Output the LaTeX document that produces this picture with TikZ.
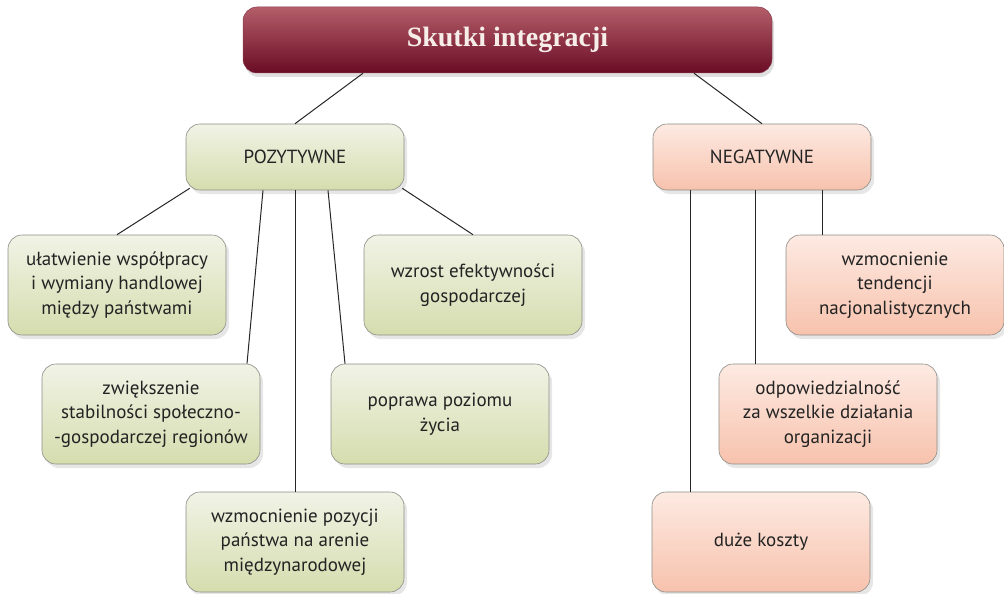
\documentclass[tikz,border=0pt]{standalone}
\usepackage{fontspec}
\usepackage{tikz}
\usepackage{xcolor}
\setsansfont{PT Sans}
\newfontfamily\headfont{Liberation Serif}
\usetikzlibrary{
  calc, positioning, shadows
}
\definecolor{headtop}{HTML}{B45E69}
\definecolor{headmid}{HTML}{9C1838}
\definecolor{headbot}{HTML}{6A0C25}
\definecolor{headtext}{HTML}{F7EEEA}
\definecolor{postop}{HTML}{F1F3E6}
\definecolor{posbot}{HTML}{D5DDAE}
\definecolor{negtop}{HTML}{FDEAE2}
\definecolor{negbot}{HTML}{F7C2AD}
\definecolor{textdark}{HTML}{232323}
\definecolor{bordergray}{HTML}{8C8C86}
\tikzset{
  % Title bar
  head/.style={
    draw=headbot!80, top color=headtop, middle color=headmid,
    bottom color=headbot, rounded corners=14pt,
    minimum width=529pt, minimum height=66pt,
    font=\headfont\bfseries\fontsize{28}{34}\selectfont, text=headtext,
    line width=0.5pt,
    drop shadow={shadow xshift=2pt, shadow yshift=-4pt, opacity=0.25},
  },
  % Category boxes (positive / negative)
  cat/.style={
    draw=bordergray, top color=#1top, bottom color=#1bot,
    rounded corners=14pt,
    minimum width=218pt, minimum height=66pt,
    font=\sffamily\fontsize{19}{24.5}\selectfont, text=textdark,
    line width=0.6pt,
    drop shadow={shadow xshift=3pt, shadow yshift=-4pt, opacity=0.2},
  },
  % Effect boxes
  effect/.style={
    draw=bordergray, top color=#1top, bottom color=#1bot,
    rounded corners=14pt, align=center,
    minimum width=218pt, minimum height=100pt,
    font=\sffamily\fontsize{19}{24.5}\selectfont, text=textdark,
    line width=0.6pt,
    drop shadow={shadow xshift=3pt, shadow yshift=-4pt, opacity=0.2},
  },
  % Connectors
  link/.style={line width=1pt, black!85},
}

\begin{document}
\begin{tikzpicture}[x=1pt, y=-1pt]
  \useasboundingbox (0,0) rectangle (1004,594);

  \node[head] (title) at (507.5,40) {Skutki integracji};

  \node[cat=pos] (poz) at (295,157) {POZYTYWNE};
  \node[cat=neg] (neg) at (762,157) {NEGATYWNE};

  % positive effects
  \node[effect=pos] (wspol) at (117,285)
    {ułatwienie współpracy\\i wymiany handlowej\\między państwami};
  \node[effect=pos] (efekt) at (473,285)
    {wzrost efektywności\\gospodarczej};
  \node[effect=pos] (stab) at (151,414)
    {zwiększenie\\stabilności społeczno-\\-gospodarczej regionów};
  \node[effect=pos] (zycie) at (440,414)
    {poprawa poziomu\\życia};
  \node[effect=pos] (arena) at (295,542)
    {wzmocnienie pozycji\\państwa na arenie\\międzynarodowej};

  % negative effects
  \node[effect=neg] (nacj) at (895,285)
    {wzmocnienie\\tendencji\\nacjonalistycznych};
  \node[effect=neg] (odp) at (828,414)
    {odpowiedzialność\\za wszelkie działania\\organizacji};
  \node[effect=neg] (koszt) at (761,542)
    {duże koszty};

  \draw[link] ([xshift=-144.5pt]title.south) -- (poz.north);
  \draw[link] ([xshift=186.5pt]title.south) -- (neg.north);

  \draw[link] ([xshift=4pt,yshift=2pt]poz.south west) -- (wspol.north);
  \draw[link] ([xshift=-32pt]poz.south) -- ([xshift=96pt]stab.north);
  \draw[link] (poz.south) -- (arena.north);
  \draw[link] ([xshift=33pt]poz.south) -- ([xshift=-95pt]zycie.north);
  \draw[link] ([xshift=-2pt,yshift=2pt]poz.south east) -- (efekt.north);

  \draw[link] ([xshift=-72pt]neg.south) coordinate (n1)
    -- (n1 |- koszt.north);
  \draw[link] ([xshift=-7pt]neg.south) coordinate (n2)
    -- (n2 |- odp.north);
  \draw[link] ([xshift=60pt]neg.south) coordinate (n3)
    -- (n3 |- nacj.north);
\end{tikzpicture}
\end{document}
